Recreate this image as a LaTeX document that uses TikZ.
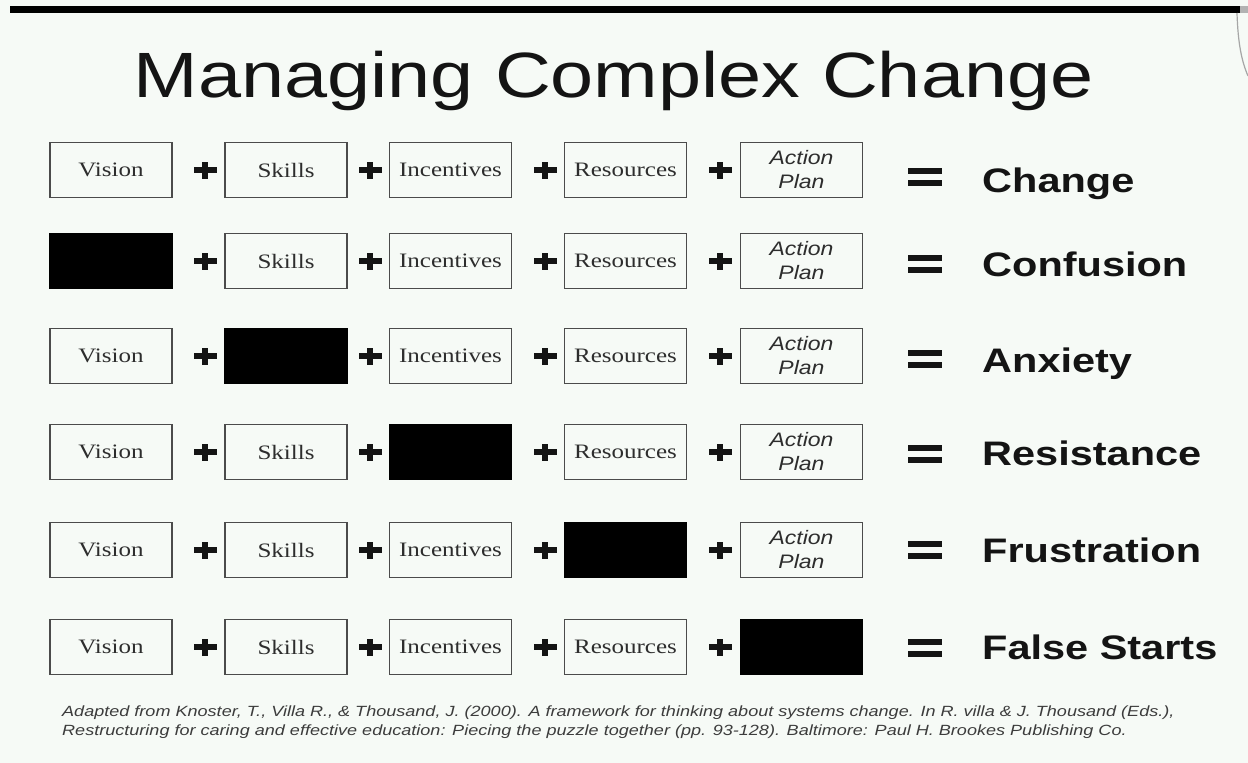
\documentclass[tikz,border=0pt]{standalone}
\usepackage{fontspec}
\setmainfont{Liberation Serif}
\newfontfamily\titlefont{Liberation Sans}[FakeStretch=1.21]
\newfontfamily\labelfont{Liberation Sans}[FakeStretch=1.22]
\newfontfamily\boxfont{Liberation Serif}[FakeStretch=1.22]
\newfontfamily\apfont{Liberation Sans}[FakeStretch=1.18]
\newfontfamily\footfont{Liberation Sans}[FakeStretch=1.22]
\definecolor{bg}{RGB}{246,250,246}
\definecolor{boxline}{RGB}{75,75,75}
\definecolor{boxtext}{RGB}{45,45,45}
\definecolor{ink}{RGB}{20,20,20}
\definecolor{foottext}{RGB}{60,60,60}
\tikzset{
  box/.style={draw=boxline, line width=1.6pt, minimum width=122pt, minimum height=55pt, inner sep=0pt},
  tbox/.style={box, text=boxtext, font=\boxfont\fontsize{20.5}{24}\selectfont},
  abox/.style={box, text=boxtext, align=center, font=\apfont\itshape\fontsize{19.5}{24}\selectfont},
  blk/.style={box, draw=black, fill=black},
  lab/.style={text=ink, inner sep=0pt, font=\labelfont\bfseries\fontsize{34}{40}\selectfont},
  foot/.style={text=foottext, inner sep=0pt, font=\footfont\itshape\fontsize{14.8}{17}\selectfont},
  plus/.pic={\fill[ink] (-11.5,-2.75) rectangle (11.5,2.75); \fill[ink] (-3,-8.5) rectangle (3,8.5);},
  eqsign/.pic={\fill[ink] (-17,-9) rectangle (17,-3); \fill[ink] (-17,3) rectangle (17,9);}
}
\begin{document}
\begin{tikzpicture}[x=1pt,y=-1pt]
\fill[bg] (0,0) rectangle (1248,763);
\useasboundingbox (0,0) rectangle (1248,763);
% top bar and page edge
\fill[black] (10,6) rectangle (1240,13);
\fill[gray!60] (1240,6) rectangle (1248,13);
\draw[gray!70, line width=1.2pt] (1237,13) .. controls (1238,45) and (1242,62) .. (1248,76);
% title
\node[anchor=base, inner sep=0pt, text=ink, font=\titlefont\fontsize{64}{70}\selectfont] (title) at (613.5,97) {Managing Complex Change};
% rows
\foreach \r/\y/\lab/\ly/\eqy in {1/170/Change/192/177, 2/261/Confusion/276/264, 3/356/Anxiety/372/359, 4/452/Resistance/465/454, 5/550/Frustration/562/550, 6/647/False Starts/659/648}{
  \foreach \c/\x/\t/\st in {1/111/Vision/tbox, 2/286/Skills/tbox, 3/450.5/Incentives/tbox, 4/625.5/Resources/tbox, 5/801.5/{Action\\Plan}/abox}{
    \ifnum\c=\numexpr\r-1\relax
      \node[blk] (b\r\c) at (\x,\y) {};
    \else
      \node[\st] (b\r\c) at (\x,\y) {\t};
    \fi
  }
  \foreach \px in {205,370,545,720}{ \pic at (\px,\y) {plus}; }
  \pic at (925,\eqy) {eqsign};
  \node[lab, anchor=base west] (l\r) at (982,\ly) {\lab};
}
% footnote
\node[foot, anchor=base west] (fn1) at (62,716) {Adapted from Knoster, T., Villa R., \& Thousand, J. (2000). A framework for thinking about systems change. In R. villa \& J. Thousand (Eds.),};
\node[foot, anchor=base west] (fn2) at (62,735) {Restructuring for caring and effective education: Piecing the puzzle together (pp. 93-128). Baltimore: Paul H. Brookes Publishing Co.};
\end{tikzpicture}
\end{document}
